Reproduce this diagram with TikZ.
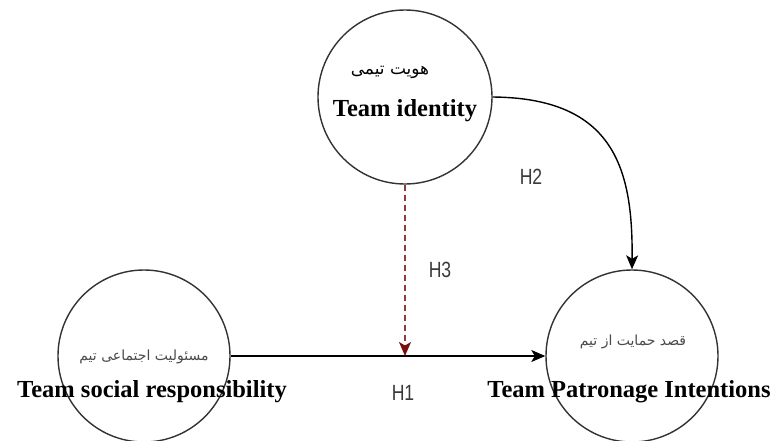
\documentclass[tikz,border=0pt]{standalone}
\usepackage{fontspec}
\setmainfont{Liberation Serif}
\newfontfamily\hfont[FakeStretch=0.8]{Liberation Sans}
\newfontfamily\fafont[Script=Arabic]{DejaVu Sans}
\TeXXeTstate=1
\usetikzlibrary{arrows.meta}
\definecolor{circ}{HTML}{333333}
\definecolor{lab}{HTML}{3A3A3A}
\definecolor{fagray}{HTML}{4A4A4A}
\definecolor{dred}{HTML}{8E3B3B}
\definecolor{dredtip}{HTML}{7A0F0F}
\tikzset{
  construct/.style={circle, draw=circ, line width=1.4pt, inner sep=0pt, minimum size=#1},
  entext/.style={font=\fontsize{24.5}{26}\selectfont\bfseries, inner sep=0pt},
  fatext/.style={font=\fafont\fontsize{14}{16}\selectfont, text=fagray, inner sep=0pt},
  fabig/.style={font=\fafont\fontsize{17}{19}\selectfont, text=black, inner sep=0pt},
  hyp/.style={font=\hfont\fontsize{22}{24}\selectfont, text=lab, inner sep=0pt},
  path1/.style={draw=black, line width=1.4pt, -{Stealth[length=14pt,width=12pt,inset=3.5pt]}},
  path3/.style={draw=dred, line width=1.4pt, dash pattern=on 6pt off 4pt, -{Stealth[length=14pt,width=12pt,inset=3.5pt,color=dredtip]}}
}
\begin{document}
\begin{tikzpicture}[x=1pt,y=-1pt]
\useasboundingbox[fill=white] (0,0) rectangle (779,440);
% constructs
\node[construct=174pt] (tid) at (405,97) {};
\node[construct=172pt] (tsr) at (144,356) {};
\node[construct=172pt] (tpi) at (632,356) {};
% texts
\node[fabig] (tidfa) at (390,72) {\beginR هویت تیمی\endR};
\node[entext] (tiden) at (405,111) {Team identity};
\node[fatext] (tsrfa) at (144,357) {\beginR مسئولیت اجتماعی تیم\endR};
\node[entext] (tsren) at (152,392) {Team social responsibility};
\node[fatext] (tpifa) at (633,342) {\beginR قصد حمایت از تیم\endR};
\node[entext] (tpien) at (629,392) {Team Patronage Intentions};
% connectors
\coordinate (mod) at (tid.south |- tsr.east);
\draw[path1] (tsr.east) -- (tpi.west);
\draw[path1] (tid.east) .. controls (615,98) and (633,170) .. (tpi.north);
\draw[path3] (tid.south) -- (mod);
% labels
\node[hyp] (h1) at (403,393) {H1};
\node[hyp] (h2) at (531,177) {H2};
\node[hyp] (h3) at (440,270) {H3};
\end{tikzpicture}
\end{document}
